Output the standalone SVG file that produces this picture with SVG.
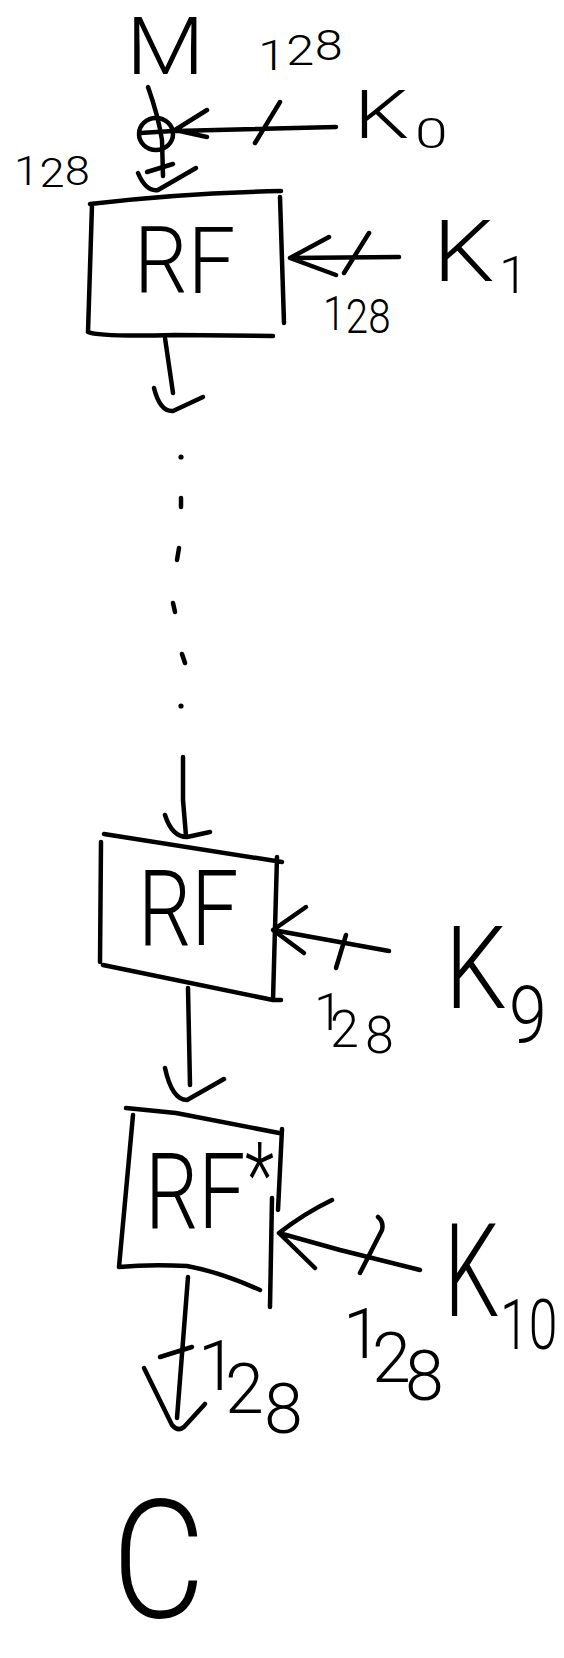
<svg xmlns="http://www.w3.org/2000/svg" width="564" height="1658" viewBox="0 0 564 1658">
<style>
.t{font-family:Roboto,'Open Sans','Liberation Sans',sans-serif;font-weight:300;fill:#000}
.s{fill:none;stroke:#000;stroke-width:4.5;stroke-linecap:round;stroke-linejoin:round}
</style>
<rect width="564" height="1658" fill="#fff"/>
<g id="labels-bits">
<text class="t" font-size="42" transform="translate(258,0) scale(1.2,1)" x="0 23.6 47.2" y="70 65 60">128</text>
<text class="t" font-size="40" transform="translate(14,0) scale(1.13,1)" x="0 22.5 45" y="185 187 185">128</text>
<text class="t" font-size="48" transform="translate(323,0) scale(0.84,1)" x="0 27 54" y="330 333 333">128</text>
<text class="t" font-size="52" x="314 330 365" y="1030 1047 1053">128</text>
<text class="t" font-size="70" x="343 372 405" y="1358 1382 1400">128</text>
<text class="t" font-size="70" x="198 225 264" y="1390 1413 1433">128</text>
</g>
<g id="node-M"><text class="t" font-size="79" transform="translate(126,74) scale(1.15,1)">M</text></g>
<g id="node-xor">
<ellipse class="s" cx="156" cy="134" rx="17" ry="16"/>
<path class="s" d="M140,133 L173,131"/>
</g>
<g id="node-K0">
<text class="t" font-size="67" transform="translate(354,138) scale(1.3,1)">K</text>
<text class="t" font-size="42" transform="translate(415,148) scale(1.4,1)">0</text>
</g>
<g id="node-RF1">
<path class="s" d="M90,204 Q180,193 281,191 M92,205 L88,332 M88,332 Q100,337 175,335 L273,336 M280,197 L284,323"/>
<text class="t" font-size="93" transform="translate(134,293) scale(0.91,1)">RF</text>
</g>
<g id="node-K1">
<text class="t" font-size="86" transform="translate(433,281) scale(1.13,1)">K</text>
<text class="t" font-size="52" x="499" y="293">1</text>
</g>
<g id="node-RF9">
<path class="s" d="M104,834 L282,862 M101,842 L100,962 M103,965 L273,1000 L281,1000 M277,857 L273,1000"/>
<text class="t" font-size="105" transform="translate(138,945) scale(0.8,1)">RF</text>
</g>
<g id="node-K9">
<text class="t" font-size="115" transform="translate(445,1008) scale(0.85,1)">K</text>
<text class="t" font-size="80" transform="translate(509,1043) scale(0.85,1)">9</text>
</g>
<g id="node-RF10">
<path class="s" d="M126,1108 L176,1113 L279,1133 M133,1115 L119,1267 M119,1267 Q150,1264 187,1266 Q220,1272 260,1290 M282,1129 L278,1210 M272,1198 L270,1307"/>
<text class="t" font-size="105" transform="translate(145,1228) scale(0.8,1)">RF</text>
<text class="t" font-size="90" transform="translate(245,1207) scale(0.76,1)">*</text>
</g>
<g id="node-K10">
<text class="t" font-size="129" transform="translate(444,1316) scale(0.68,1)">K</text>
<text class="t" font-size="70" transform="translate(500,1349) scale(0.74,1)">10</text>
</g>
<g id="node-C"><text class="t" font-size="165" transform="translate(112,1617) scale(0.87,1)">C</text></g>
<g id="connectors">
<path class="s" d="M148,87 Q158,115 162,140 L163,176"/>
<path class="s" d="M147,172 L173,164"/>
<path class="s" d="M138,173 Q146,192 158,190 L196,168"/>
<path class="s" d="M336,127 L176,131 M207,110 L175,130 L207,137 M255,143 L280,102"/>
<path class="s" d="M399,257 L290,258 M329,237 L290,258 L336,275 M344,273 L369,233"/>
<path class="s" d="M165,338 L173,393 M154,388 Q160,412 173,411 L203,397"/>
<circle cx="181" cy="457" r="2.6"/>
<path class="s" d="M181,498 L181,507 M179,548 L177,560 M173,603 L175,612 M182,654 L185,663"/>
<circle cx="181" cy="706" r="2.6"/>
<path class="s" d="M183,757 L183,800 L186,836 M165,815 Q172,837 187,837 L210,832"/>
<path class="s" d="M389,951 L273,930 M306,907 L273,930 L304,953 M336,968 L346,935"/>
<path class="s" d="M188,988 L190,1085 M165,1068 Q172,1100 187,1100 L224,1079"/>
<path class="s" d="M420,1270 L340,1250 L279,1233 M332,1200 Q305,1213 279,1233 L315,1268 M360,1273 L382,1230 Q384,1222 378,1217"/>
<path class="s" d="M188,1277 L177,1418 M160,1357 L192,1347 M144,1368 L172,1425 Q178,1432 184,1427 L205,1404"/>
</g>
</svg>
